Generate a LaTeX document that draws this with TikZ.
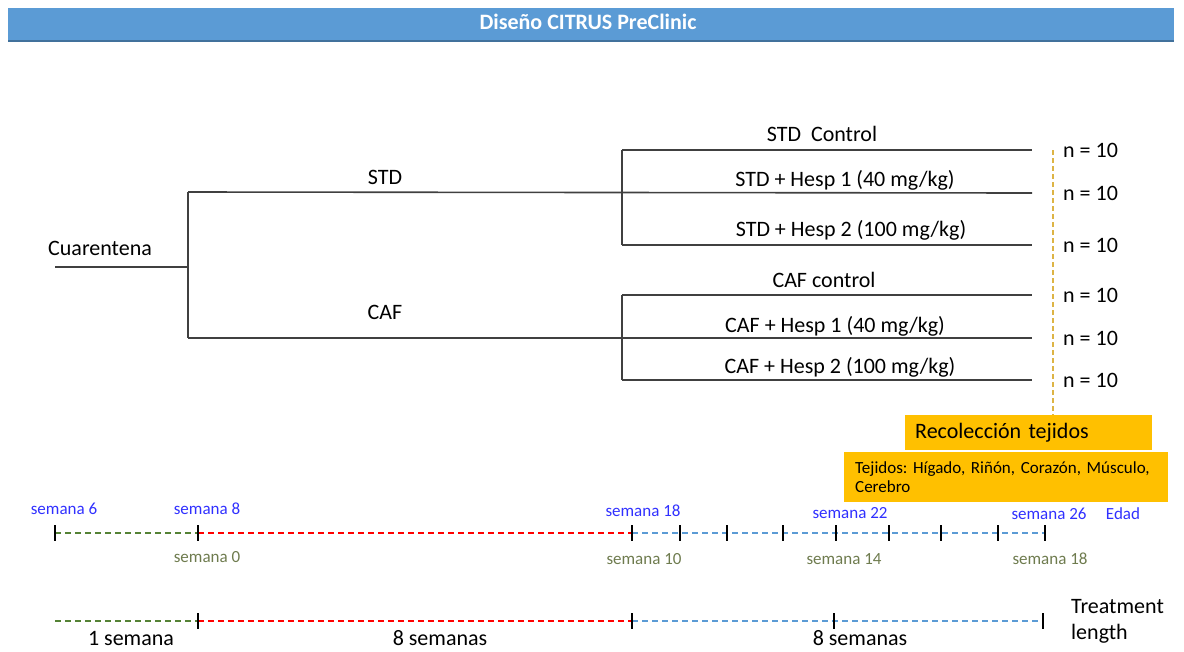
\documentclass[tikz,border=0pt]{standalone}
\usepackage{fontspec}
\setmainfont{Carlito}
\usepackage{tikz}
\usepackage{xcolor}
\usetikzlibrary{positioning}

\definecolor{banner}{HTML}{5B9BD5}
\definecolor{bannerline}{HTML}{41719C}
\definecolor{harvest}{HTML}{FFC000}
\definecolor{harvestdash}{HTML}{DDB445}
\definecolor{agecol}{HTML}{3030FF}
\definecolor{treatcol}{HTML}{6E7B4E}
\definecolor{quarcol}{HTML}{548235}
\definecolor{dietcol}{HTML}{FF0000}
\definecolor{hespcol}{HTML}{5B9BD5}
\definecolor{branchcol}{HTML}{404040}

\newcommand{\treefont}{\fontsize{22}{26}\selectfont}
\newcommand{\weekfont}{\fontsize{17}{20}\selectfont}
\newcommand{\tissuefont}{\fontsize{17}{19}\selectfont}
\newcommand{\bannerfont}{\fontsize{22}{26}\selectfont\bfseries}

\frenchspacing

\begin{document}
\begin{tikzpicture}[
    x=1pt, y=-1pt,
    branch/.style={draw=branchcol, line width=1.6pt},
    treetext/.style={font=\treefont, inner sep=0pt, anchor=base},
    ntext/.style={font=\treefont, inner sep=0pt, anchor=base west},
    agetext/.style={font=\weekfont, text=agecol, inner sep=0pt, anchor=base},
    treattext/.style={font=\weekfont, text=treatcol, inner sep=0pt, anchor=base},
    phase/.style={line width=1.3pt, dash pattern=on 6pt off 4pt},
    tickmark/.style={draw=black, line width=1.2pt},
    harvestbox/.style={fill=harvest, inner sep=0pt, align=left}
]

    \useasboundingbox (0,0) rectangle (1184,651);

    %------------------------------------------------
    % Title bar
    %------------------------------------------------

    \fill[banner]
        (8,8) rectangle (1174,41);

    \draw[bannerline, line width=2pt]
        (8,41) -- (1174,41);

    \node[font=\bannerfont, text=white, inner sep=0pt, anchor=base]
        (title) at (588,29)
        {Diseño CITRUS PreClinic};

    %------------------------------------------------
    % Group tree
    %------------------------------------------------

    \coordinate (root)     at (55,267);
    \coordinate (split)    at (188,267);
    \coordinate (stdfork)  at (188,192);
    \coordinate (caffork)  at (188,338);

    \coordinate (stdtop)   at (622,150);
    \coordinate (stdbot)   at (622,245);
    \coordinate (caftop)   at (622,295);
    \coordinate (cafbot)   at (622,380);

    \coordinate (stdctrl)  at (1032,150);
    \coordinate (stdhone)  at (1032,193);
    \coordinate (stdhtwo)  at (1032,245);
    \coordinate (cafctrl)  at (1032,295);
    \coordinate (cafhone)  at (1032,338);
    \coordinate (cafhtwo)  at (1032,380);

    \draw[branch] (root) -- (split);
    \draw[branch] (stdfork) -- (caffork);
    \draw[branch] (stdfork) -- (stdhone);
    \draw[branch] (caffork) -- (cafhone);

    \draw[branch] (stdtop) -- (stdbot);
    \draw[branch] (stdtop) -- (stdctrl);
    \draw[branch] (stdbot) -- (stdhtwo);

    \draw[branch] (caftop) -- (cafbot);
    \draw[branch] (caftop) -- (cafctrl);
    \draw[branch] (cafbot) -- (cafhtwo);

    \node[treetext, anchor=base west] (quar) at (48,255) {Cuarentena};
    \node[treetext] (std) at (385,184) {STD};
    \node[treetext] (caf) at (385,319) {CAF};

    \node[treetext] (stdctrllbl) at (822,141) {STD~~Control};
    \node[treetext] (stdhonelbl) at (845,186) {STD + Hesp 1 (40 mg/kg)};
    \node[treetext] (stdhtwolbl) at (851,236) {STD + Hesp 2 (100 mg/kg)};
    \node[treetext] (cafctrllbl) at (824,287) {CAF control};
    \node[treetext] (cafhonelbl) at (835,332) {CAF + Hesp 1 (40 mg/kg)};
    \node[treetext] (cafhtwolbl) at (840,373) {CAF + Hesp 2 (100 mg/kg)};

    %------------------------------------------------
    % Group sizes
    %------------------------------------------------

    \foreach \grp in {stdctrl,stdhone,stdhtwo,cafctrl,cafhone,cafhtwo}
        \node[ntext] (n\grp) at ([xshift=31pt, yshift=-7pt]\grp) {n = 10};

    %------------------------------------------------
    % Tissue collection
    %------------------------------------------------

    \node[harvestbox, anchor=north west,
          minimum width=247pt, minimum height=35pt,
          text width=227pt, font=\treefont]
        (harvest) at (905,415)
        {Recolección tejidos};

    \node[harvestbox, anchor=north west,
          minimum width=324pt, minimum height=50pt,
          text width=302pt, font=\tissuefont]
        (tissues) at (844,452)
        {Tejidos: Hígado, Riñón, Corazón, Músculo,\\Cerebro};

    \coordinate (harvesttop) at (1053,150);

    \draw[harvestdash, line width=1.6pt, dash pattern=on 5pt off 3pt]
        (harvesttop) -- (harvesttop |- harvest.north);

    %------------------------------------------------
    % Age timeline
    %------------------------------------------------

    \foreach \tx [count=\i] in {55,198,632,680,727,783,836,889,941,998,1045}
        \coordinate (age\i) at (\tx,533);

    \draw[phase, quarcol] (age1) -- (age2);
    \draw[phase, dietcol] (age2) -- (age3);
    \draw[phase, hespcol] (age3) -- (age11);

    \foreach \i in {1,...,11}
        \draw[tickmark] ([yshift=8pt]age\i) -- ([yshift=-8pt]age\i);

    \node[agetext] (wsix)        at (64,514)   {semana 6};
    \node[agetext] (weight)      at (207,514)  {semana 8};
    \node[agetext] (weighteen)   at (643,516)  {semana 18};
    \node[agetext] (wtwentytwo)  at (850,518)  {semana 22};
    \node[agetext] (wtwentysix)  at (1049,519) {semana 26};
    \node[agetext] (edad)        at (1123,519) {Edad};

    \node[treattext] (tzero)     at (207,562)  {semana 0};
    \node[treattext] (tten)      at (644,564)  {semana 10};
    \node[treattext] (tfourteen) at (844,564)  {semana 14};
    \node[treattext] (teighteen) at (1050,564) {semana 18};

    %------------------------------------------------
    % Treatment length
    %------------------------------------------------

    \foreach \tx [count=\i] in {55,198,632,834,1043}
        \coordinate (len\i) at (\tx,621);

    \draw[phase, quarcol] (len1) -- (len2);
    \draw[phase, dietcol] (len2) -- (len3);
    \draw[phase, hespcol] (len3) -- (len5);

    \foreach \i in {2,...,5}
        \draw[tickmark] ([yshift=8pt]len\i) -- ([yshift=-8pt]len\i);

    \node[treetext] (lenone)   at (131,645) {1 semana};
    \node[treetext] (lendiet)  at (440,645) {8 semanas};
    \node[treetext] (lenhesp)  at (860,645) {8 semanas};

    \node[treetext, anchor=base west] (treatment) at (1071,613) {Treatment};
    \node[treetext, anchor=base west] (length)    at (1071,639) {length};

\end{tikzpicture}
\end{document}
